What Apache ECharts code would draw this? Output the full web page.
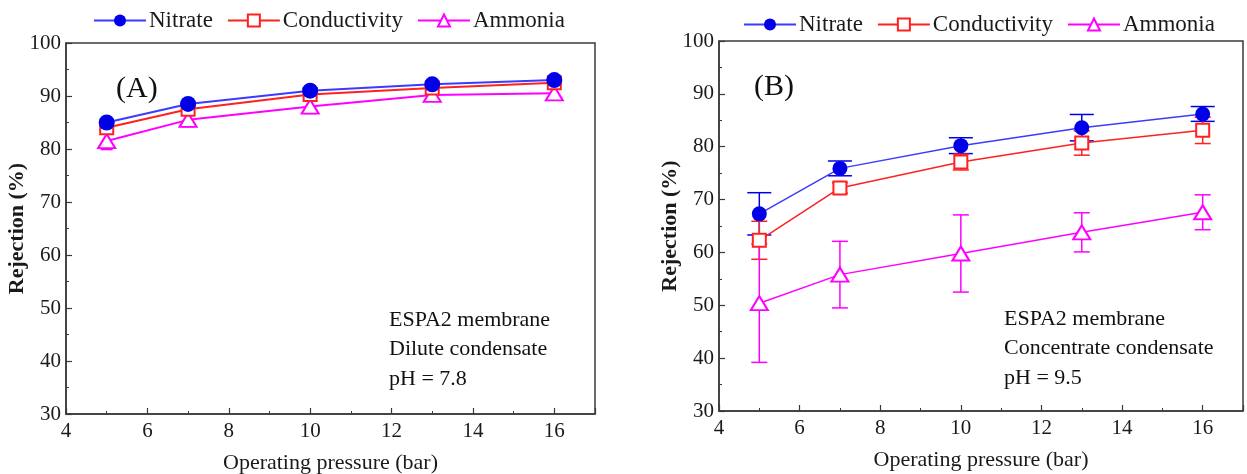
<!DOCTYPE html>
<html>
<head>
<meta charset="utf-8">
<script src="https://cdn.jsdelivr.net/npm/echarts@6/dist/echarts.min.js"></script>
<style>
html,body{margin:0;padding:0;background:#fff;}
#chart{width:1247px;height:474px;}
</style>
</head>
<body>
<div id="chart"></div>
<script>
// ---- data ----
const pressures = [5, 7, 10, 13, 16];
const seriesNames = ['Nitrate', 'Conductivity', 'Ammonia'];
const xTicks = [4, 6, 8, 10, 12, 14, 16];
const yTicks = [30, 40, 50, 60, 70, 80, 90, 100];

// Panel A (dilute condensate, pH 7.8)
const nitrateA = [85.0, 88.5, 91.0, 92.2, 93.0];
const nitrateErrA = [0.6, 0.5, 0.6, 0.5, 0.5];
const condA = [84.0, 87.5, 90.3, 91.5, 92.5];
const condErrA = [1.0, 0.8, 0.8, 0.6, 0.6];
const ammA = [81.5, 85.5, 88.0, 90.2, 90.5];
const ammErrA = [1.6, 1.3, 1.3, 1.0, 1.0];

// Panel B (concentrate condensate, pH 9.5)
const nitrateB = [67.3, 75.9, 80.2, 83.6, 86.2];
const nitrateErrB = [4.0, 1.4, 1.5, 2.5, 1.4];
const condB = [62.3, 72.2, 77.1, 80.7, 83.1];
const condErrB = [3.6, 1.0, 1.5, 2.3, 2.5];
const ammB = [50.4, 55.8, 59.8, 63.8, 67.6];
const ammErrB = [11.2, 6.3, 7.3, 3.7, 3.3];

const labelsA = ['(A)', 'ESPA2 membrane', 'Dilute condensate', 'pH = 7.8'];
const labelsB = ['(B)', 'ESPA2 membrane', 'Concentrate condensate', 'pH = 9.5'];

// ---- styling ----
const FONT = '"Liberation Serif", "Times New Roman", serif';
const C_N = '#0000e8', C_NL = '#3b3bff';
const C_C = '#ff2020';
const C_A = '#ff00ff';

function pairs(vals) { return pressures.map((p, i) => [p, vals[i]]); }
function errData(vals, errs) { return pressures.map((p, i) => [p, vals[i] - errs[i], vals[i] + errs[i]]); }

function errSeries(idx, vals, errs, color, cap, lw) {
  return {
    type: 'custom', name: 'err', xAxisIndex: idx, yAxisIndex: idx, z: 1,
    silent: true,
    data: errData(vals, errs),
    renderItem: function (params, api) {
      const x = api.value(0);
      const lo = api.coord([x, api.value(1)]);
      const hi = api.coord([x, api.value(2)]);
      const st = { stroke: color, lineWidth: lw };
      const h = cap / 2;
      return {
        type: 'group', children: [
          { type: 'line', shape: { x1: lo[0], y1: lo[1], x2: hi[0], y2: hi[1] }, style: st },
          { type: 'line', shape: { x1: lo[0] - h, y1: lo[1], x2: lo[0] + h, y2: lo[1] }, style: st },
          { type: 'line', shape: { x1: hi[0] - h, y1: hi[1], x2: hi[0] + h, y2: hi[1] }, style: st }
        ]
      };
    }
  };
}

function lineSeries(idx, name, vals, opts) {
  return Object.assign({
    type: 'line', name: name, xAxisIndex: idx, yAxisIndex: idx, z: 3,
    data: pairs(vals)
  }, opts);
}

function xAxis(idx) {
  return {
    type: 'value', gridIndex: idx, min: 4, max: 17, interval: 2,
    name: 'Operating pressure (bar)', nameLocation: 'middle', nameGap: 38,
    nameTextStyle: { fontFamily: FONT, fontSize: 22, color: '#1a1a1a' },
    axisLine: { show: true, onZero: false, lineStyle: { color: '#3a3a3a', width: 1.5 } },
    axisTick: { show: true, inside: true, length: 6, lineStyle: { color: '#3a3a3a', width: 1.2 } },
    minorTick: { show: true, splitNumber: 2, length: 3, lineStyle: { color: '#3a3a3a', width: 1 } },
    splitLine: { show: false },
    axisLabel: {
      fontFamily: FONT, fontSize: 21, color: '#1a1a1a', margin: 7, showMaxLabel: false,
      formatter: v => (xTicks.indexOf(v) >= 0 ? String(v) : '')
    }
  };
}

function yAxis(idx) {
  return {
    type: 'value', gridIndex: idx, min: 30, max: 100, interval: 10,
    name: 'Rejection (%)', nameLocation: 'middle', nameGap: 38, nameMoveOverlap: false,
    nameTextStyle: { fontFamily: FONT, fontSize: 22, fontWeight: 'bold', color: '#1a1a1a' },
    axisLine: { show: true, onZero: false, lineStyle: { color: '#3a3a3a', width: 1.5 } },
    axisTick: { show: true, inside: true, length: 6, lineStyle: { color: '#3a3a3a', width: 1.2 } },
    minorTick: { show: true, splitNumber: 2, length: 3, lineStyle: { color: '#3a3a3a', width: 1 } },
    splitLine: { show: false },
    axisLabel: {
      fontFamily: FONT, fontSize: 21, color: '#1a1a1a', margin: 5,
      formatter: v => (yTicks.indexOf(v) >= 0 ? String(v) : '')
    }
  };
}

function legend(left, top) {
  return {
    data: seriesNames, left: left, top: top, itemWidth: 52, itemHeight: 15, itemGap: 14,
    textStyle: { fontFamily: FONT, fontSize: 23, color: '#1a1a1a', padding: [0, 0, 0, -2] },
    selectedMode: false
  };
}

function textBlock(x, y, lines) {
  const els = [];
  els.push({ type: 'text', left: x[0], top: y[0], style: { text: lines[0], font: '30px ' + FONT, fill: '#111' } });
  for (let i = 1; i < lines.length; i++) {
    els.push({ type: 'text', left: x[1], top: y[1] + (i - 1) * 29.5, style: { text: lines[i], font: '22px ' + FONT, fill: '#111' } });
  }
  return els;
}

const gridBase = { show: true, borderColor: '#3a3a3a', borderWidth: 1.5, backgroundColor: 'transparent', containLabel: false, outerBoundsMode: 'none' };

const chart = echarts.init(document.getElementById('chart'), null, { renderer: 'canvas' });
chart.setOption({
  animation: false,
  backgroundColor: '#fff',
  grid: [
    Object.assign({ left: 66, top: 43, width: 529, height: 371 }, gridBase),
    Object.assign({ left: 719, top: 41, width: 524, height: 370 }, gridBase)
  ],
  legend: [legend(88, 4), legend(738, 8)],
  xAxis: [xAxis(0), xAxis(1)],
  yAxis: [yAxis(0), yAxis(1)],
  graphic: textBlock([116, 389], [74, 309], labelsA).concat(textBlock([754, 1004], [72, 308], labelsB)),
  series: [
    // Panel A
    lineSeries(0, 'Nitrate', nitrateA, { symbol: 'circle', symbolSize: 16, itemStyle: { color: C_N }, lineStyle: { color: C_NL, width: 2 }, z: 5 }),
    lineSeries(0, 'Conductivity', condA, { symbol: 'emptyRect', symbolSize: 13, itemStyle: { color: C_C, borderWidth: 1.5 }, lineStyle: { color: C_C, width: 2 }, z: 4 }),
    lineSeries(0, 'Ammonia', ammA, { symbol: 'emptyTriangle', symbolSize: [17, 14], itemStyle: { color: C_A, borderWidth: 1.5 }, lineStyle: { color: C_A, width: 2 }, z: 3 }),
    errSeries(0, nitrateA, nitrateErrA, C_N, 14, 1.5),
    errSeries(0, condA, condErrA, C_C, 12, 1.5),
    errSeries(0, ammA, ammErrA, C_A, 12, 1.5),
    // Panel B
    lineSeries(1, 'Nitrate', nitrateB, { symbol: 'circle', symbolSize: 15, itemStyle: { color: C_N }, lineStyle: { color: C_NL, width: 1.5 }, z: 5 }),
    lineSeries(1, 'Conductivity', condB, { symbol: 'emptyRect', symbolSize: 13, itemStyle: { color: C_C, borderWidth: 1.5 }, lineStyle: { color: C_C, width: 1.5 }, z: 4 }),
    lineSeries(1, 'Ammonia', ammB, { symbol: 'emptyTriangle', symbolSize: [17, 14], itemStyle: { color: C_A, borderWidth: 1.5 }, lineStyle: { color: C_A, width: 1.5 }, z: 3 }),
    errSeries(1, nitrateB, nitrateErrB, C_N, 24, 1.5),
    errSeries(1, condB, condErrB, C_C, 16, 1.5),
    errSeries(1, ammB, ammErrB, C_A, 16, 1.5)
  ]
});
</script>
</body>
</html>
